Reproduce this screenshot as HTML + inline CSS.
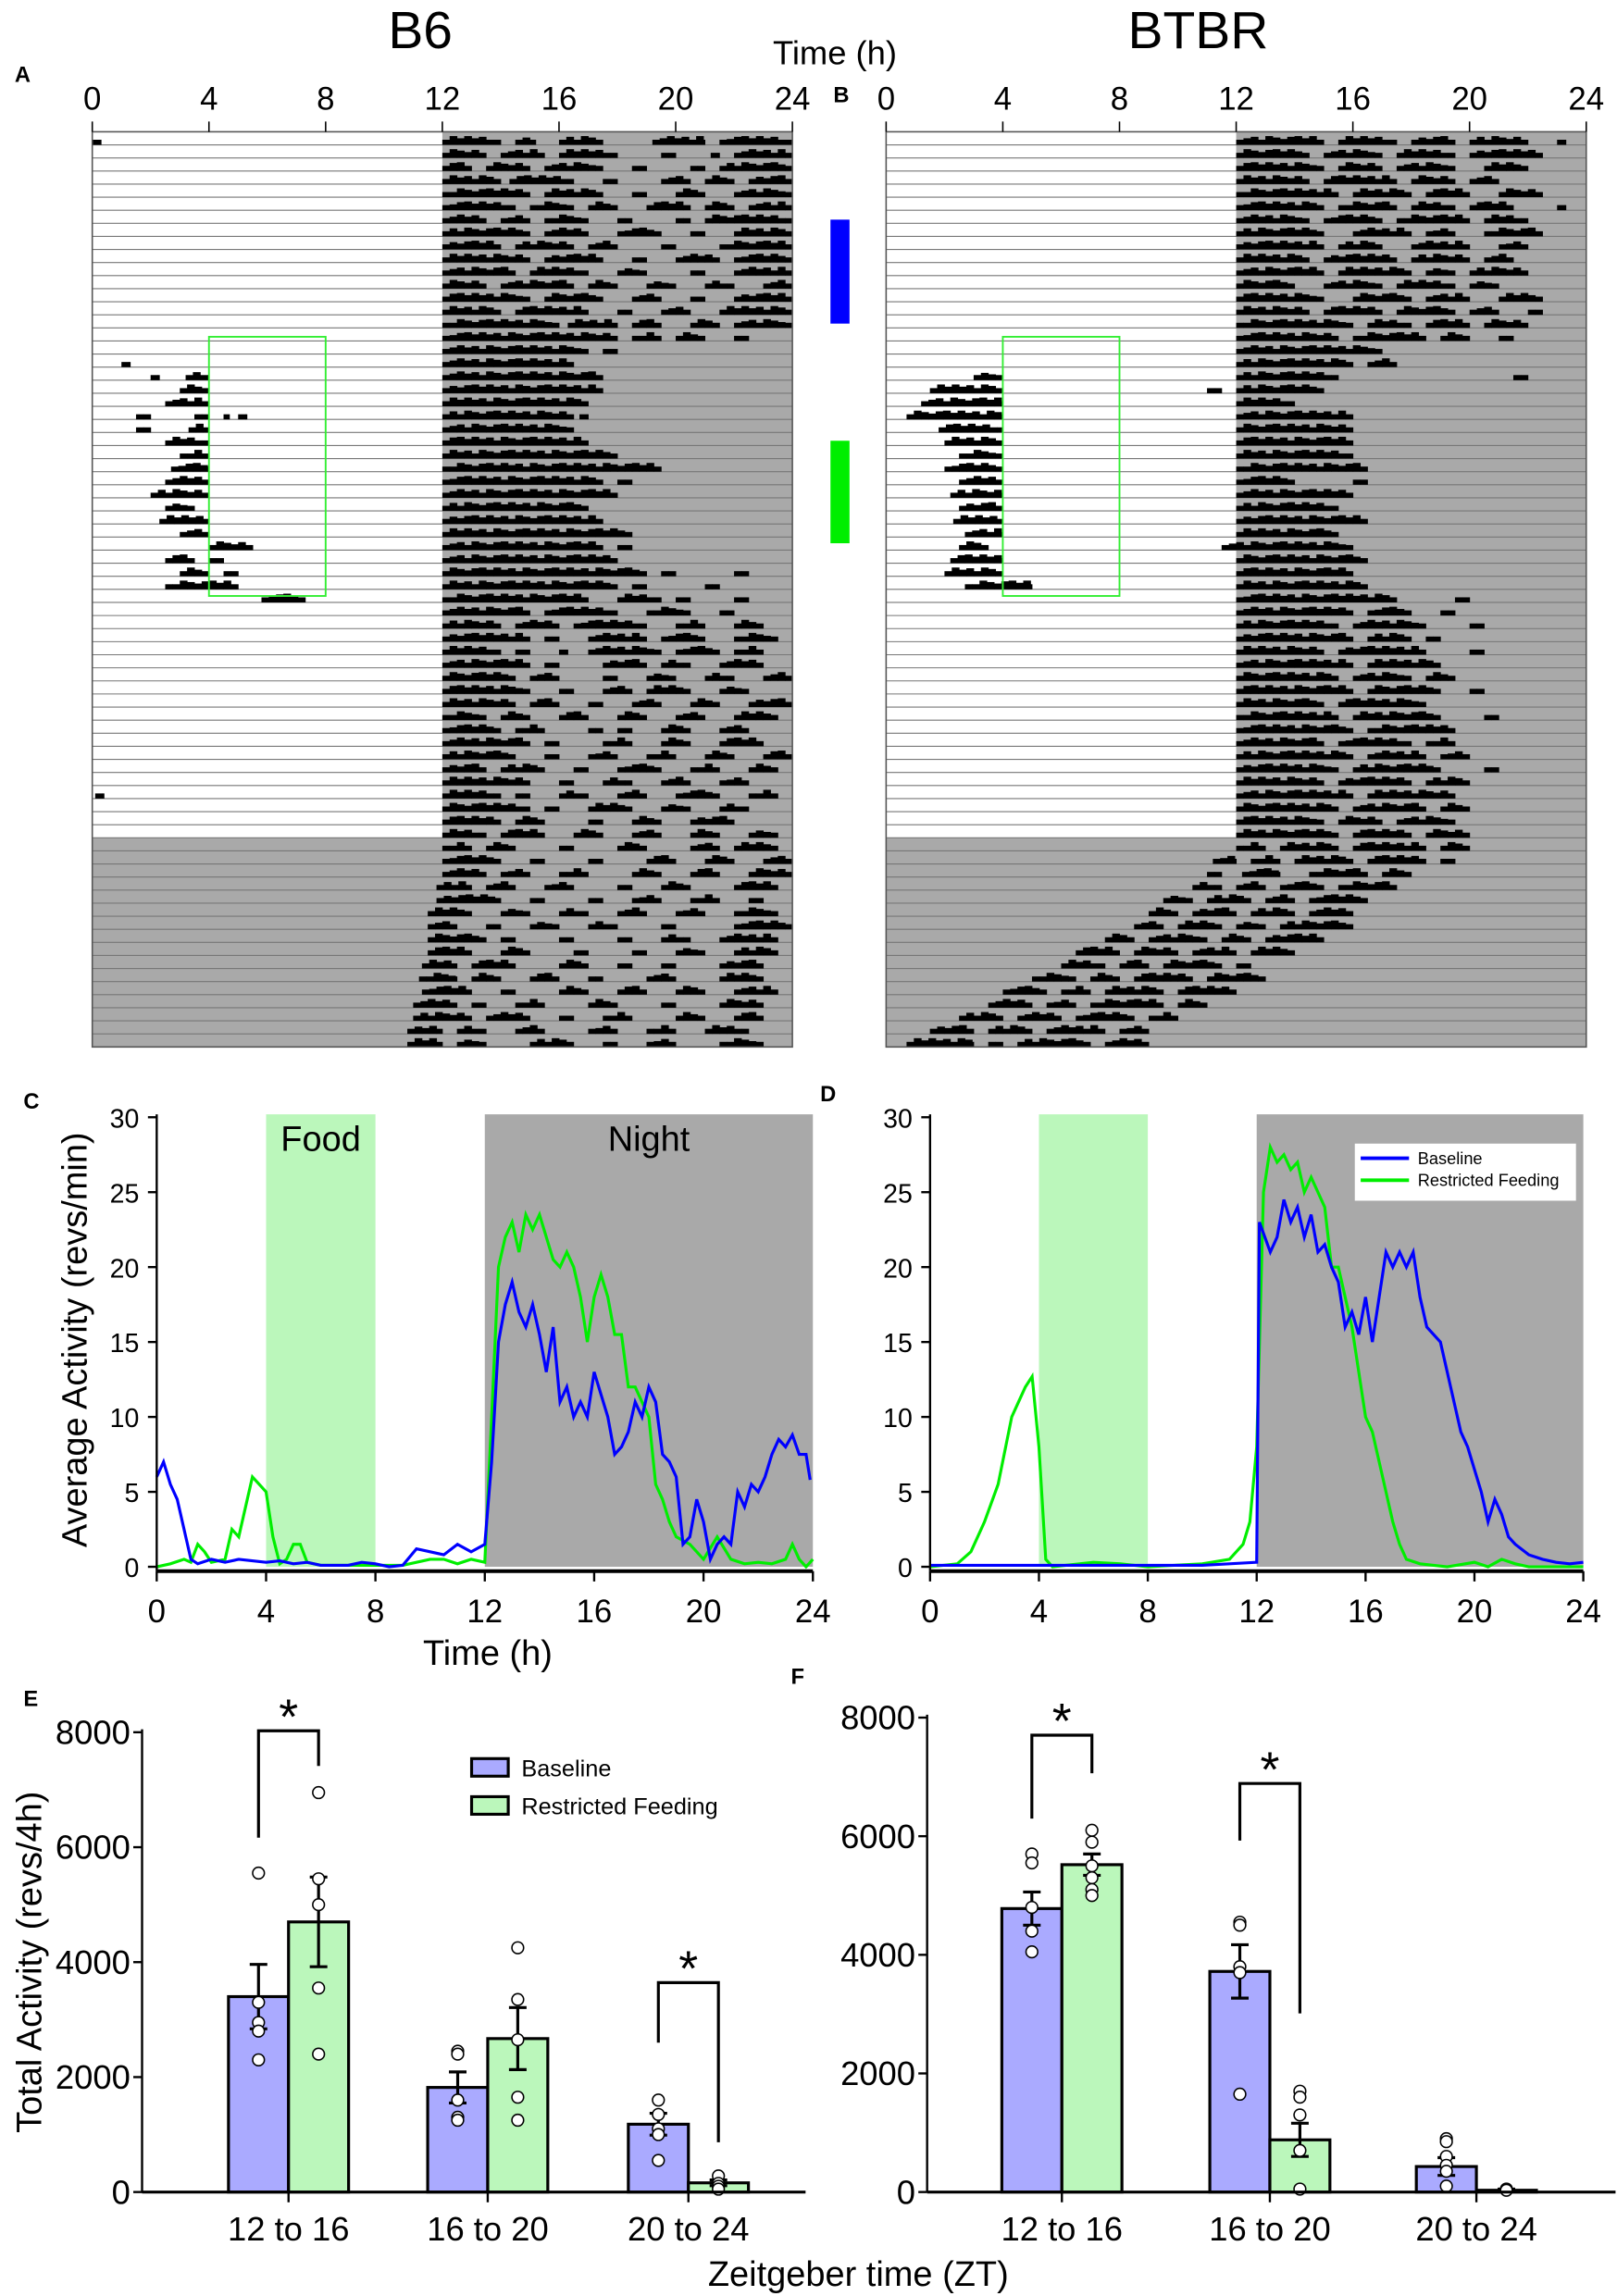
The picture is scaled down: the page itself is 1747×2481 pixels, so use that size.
<!DOCTYPE html>
<html><head><meta charset="utf-8">
<style>
html,body{margin:0;padding:0;background:#fff;}
svg{display:block;font-family:"Liberation Sans",sans-serif;}
</style></head>
<body>
<svg id="fig" width="1747" height="2481" viewBox="0 0 1104 1568" preserveAspectRatio="none" xmlns="http://www.w3.org/2000/svg">
<text x="287" y="33" font-size="36" text-anchor="middle">B6</text>
<text x="818" y="33" font-size="36" text-anchor="middle">BTBR</text>
<text x="570" y="44" font-size="23" text-anchor="middle">Time (h)</text>
<text x="10" y="56" font-size="15" font-weight="bold">A</text>
<text x="569" y="70" font-size="15" font-weight="bold">B</text>
<text x="16" y="757" font-size="15" font-weight="bold">C</text>
<text x="560" y="752" font-size="15" font-weight="bold">D</text>
<text x="16" y="1165" font-size="15" font-weight="bold">E</text>
<text x="540" y="1150" font-size="15" font-weight="bold">F</text>
<rect x="567" y="150" width="13" height="71" fill="#0000ff"/>
<rect x="567" y="301" width="13" height="70" fill="#00ee00"/>
<g id="acto"></g>
<g id="lines"></g>
<g id="bars"></g>
</svg>
<script>
const NS="http://www.w3.org/2000/svg";
function mk(parent,tag,attrs,text){const e=document.createElementNS(NS,tag);for(const k in attrs)e.setAttribute(k,attrs[k]);if(text!==undefined)e.textContent=text;parent.appendChild(e);return e;}

// ---------- ACTOGRAM DATA ----------
const actoHourTicks=[0,4,8,12,16,20,24];
const b6Rows=[
"0-0.3,12-14,14.5-15.2,16-17.5,19.2-21,21.5-24","12-13.5,14-15.5,16-18,19.5-20,21.2-21.5,22-24","12-13,13.5-15,15.5-17.5,18.5-19,20.5-21,21.5-24","12-14,14.3-16.5,17.5-18,19.5-20.5,21-22,22.5-24","12-15,15.5-17.5,18.5-19,20-21,22-24","12-14.5,15-16.5,17-18,19-20.5,21-22,22.5-24","12-13.5,14-15,15.5-17,18-18.5,20-20.5,21-24","12-15,15.5-17,18-19.5,20.5-21,22-24","12-14,14.5-16.5,17-18,19.5-20,21.5-24","12-15,15.5-17.5,18.5-19,20-21.5,22-24","12-14.5,15-17,18-19,20.5-21,22-24","12-13.5,14-16.5,17-18,19-20,21-22,23-24","12-15,15.5-17.5,18.5-19.5,20.5-21,22-24","12-14,14.5-17,18-18.5,19.5-20.5,21.5-24","12-16,16.3-18,18.5-19.5,20.5-21.5,22-24","12-18,18.5-19.5,20-21,22-22.5",
"12-17,17.5-18","1-1.3,12-16.5","2-2.3,3.2-4,12-17.5","3-4,12-17.5","2.5-4,12-17","1.5-2,3.5-4,4.5-4.7,5-5.3,12-16.5,16.7-17","1.5-2,3.3-4,12-16.5","2.5-4,12-17","3-4,12-18","2.7-4,12-19.5","2.5-4,12-17.5,18-18.5","2-4,12-18","2.5-3.5,12-17","2.3-4,12-17.5","3-4,12-18.5","4-5.5,12-17.5,18-18.5","2.5-3.5,4-4.5,12-18","3-4,4.5-5,12-19,19.5-20,22-22.5","2.5-5,12-18,18.5-19,21-21.5","5.8-7.3,12-17,18-19.5,20-20.5,22-22.5",
"12-15,15.5-18,19-20.5,21.5-22","12-14,14.5-16,16.5-19,20-21,22-23","12-15,15.5-16,17-19,19.5-21,22-23.5","12-14,14.5-15,16-16.3,17-19.5,20-21.5,22-23","12-15,15.5-16,17.5-19,19.5-20.5,21.5-23","12-14.5,15-16,17.5-18,19-20,21-22,23-24","12-15,16-16.5,17.5-18.5,19-20.5,21.5-22.5","12-14.5,15-16,17-17.5,18.5-19.5,20.5-21.5,22.5-24","12-13.5,14-15,16-17,18-19,20-21,22-23.5","12-14,14.5-15.5,17-17.5,18-18.5,19.5-20.5,21.5-22.5","12-15,15.5-16,17.5-18.5,19.5-20.5,21.5-23","12-14.5,15.5-16,17-18,19-20,21-22,23-24","12-13.5,14-15.5,16.5-17,18-19.5,20.5-21.5,22.5-23.5","12-15,16-16.5,17.5-18.5,19.5-20.5,21.5-22.5","0.1-0.4,12-14,14.5-15,16-17,18-19,20-21.5,22.5-23.5","12-15,15.5-16,17-18.5,19.5-20.5,21.5-22.5","12-14,14.5-15.5,17-17.5,18.5-19.5,20.5-22","12-13.5,14-15.5,16.5-17.5,18.5-19.5,20.5-21.5,22.5-23.5",
"12-13,13.5-14.5,16-16.5,18-19,20.5-21.5,22-23.5","12-14,15-15.5,17-17.5,19-20,21-22,23-24","12-13.5,14-15,16-17,18.5-19.5,20.5-21.5,22.5-24","11.8-13,13.5-14.5,15.5-16.5,18-18.5,19.5-20.5,22-23.5","11.8-14,15-15.5,17-17.5,18.5-19.5,20.5-21.5,22.5-23","11.5-13,14-15,16-17,18-19,20-21,22-23.5","11.5-12.5,13.5-14,15-16,17-18,19.5-20,22-24","11.5-13.5,14-14.5,16-16.5,18-18.5,19.5-20.5,21.5-23.5","11.5-13,14-15,16.5-17,18.5-19,20-21,22-23.5","11.3-12.5,13-14.5,16-17,18-18.5,19.5-20,21.5-23","11.2-12.5,13-14,15-16,17-17.5,19-20,21.5-23","11.3-13,14-14.5,16-17,18-19,20-21,22-23.5","11-12.5,13-13.5,14.5-15.5,17-18,19.5-20,21.5-23","11-13,13.5-15,16-16.5,17.5-18.5,20-21,22-23","10.8-12,12.5-13.5,14.5-15.5,17-18,19-20,21-22.5","10.8-12,12.5-13.5,15-16.5,17.5-18,19-20,21.5-23"];
const btbrRows=[
"12-15,15.5-17.5,18-19.5,20-22,23-23.3","12-14.5,15-17,17.5-19.5,20-22.5","12-15,15.5-17,17.5-19.5,20.5-22","12-14.5,15-17.5,18-19.5,20-21","12-15.5,16-18,18.5-20,21-22.5","12-15,15.5-17.5,18-19.5,20-21.5,23-23.3","12-14.5,15-17,17.5-20,20.5-22","12-15,16-18,18.5-19.5,20.5-22.5","12-15,15.5-17,18-20,21-22","12-14.5,15-17.5,18-20,20.5-21.5","12-15,15.5-18,18.5-19.5,20-22","12-14,15-17,17.5-19.5,20-21","12-15,16-18,18.5-20,21-22.5","12-14.5,15-17,17.5-19.5,20-21,22-22.5","12-16,16.5-18,18.5-20,20.5-22","12-15.5,16-18.5,19-20,21-21.5",
"12-17","12-16,16.5-17.5","3-4,12-15.5,21.5-22","1.5-4,11-11.5,12-15","1.2-4,12-14","0.7-4,12-16","1.8-4,12-16","2-4,12-16","2.5-4,12-16","2-4,12-16.5","2.5-4,12-14,16-16.5","2.2-4,12-16","2.5-4,12-15.5","2.3-4,12-16.5","2.7-4,12-15.5","2.5-3.5,11.5-16","2.2-4,12-16.5","2-4,12-16","2.7-5,12-16.5","12-17.5,19.5-20",
"12-16,16.5-18,19-19.5","12-15.5,16-18.5,20-20.5","12-16,16.5-18,18.5-19","12-15,15.5-18.5,20-20.5","12-16,16.5-19","12-15.5,16-18,18.5-19.5","12-16,16.5-19,20-20.5","12-15,15.5-18.5","12-15.5,16-19,20.5-21","12-16,16.5-19.5","12-15,15.5-18,18.5-19.5","12-16,16.5-18.5,19-20","12-15.5,16-19,20.5-21","12-15,15.5-18,18.5-20","12-16,16.5-19.5","12-15.5,16-18.5,19-20","12-15,15.5-17,17.5-19.5","12-15.5,16-18,18.5-20",
"12-13,13.5-15.5,16-18.5,19-20","11.2-12,12.5-13.5,14-16,16.5-18.5,19-19.5","11-11.5,12.2-13.5,14.5-16.5,17-18","10.5-11.5,12-13,13.5-15,15.5-17.5","9.5-10.5,11-12.5,13-14,14.5-16.5","9-10,10.5-12,12.5-14,14.5-16","8.5-9.5,10-11.5,12-13,13.5-16","7.5-8.5,9-11,11.5-12.5,13-15","6.5-8,8.5-10,10.5-12,12.5-14","6-7.5,8-9,9.5-11.5,12-12.5","5-6.5,7-8,8.5-10.5,11-13","4-5.5,6-7,7.5-9.5,10-12","3.5-5,5.5-6.5,7-9.5,10-11","2.5-4,4.5-6,6.5-8.5,9-10","1.5-3,3.5-5,5.5-7.5,8-9","0.7-3,3.5-4,4.5-7,7.5-9"];

// ---------- LINE DATA ----------
const c_blueT=[0,0.25,0.5,0.75,1,1.25,1.5,2,2.5,3,3.5,4,4.5,5,5.5,6,6.5,7,7.5,8,8.5,9,9.5,10,10.5,11,11.5,12,12.25,12.5,12.75,13,13.25,13.5,13.75,14,14.25,14.5,14.75,15,15.25,15.5,15.75,16,16.25,16.5,16.75,17,17.25,17.5,17.75,18,18.25,18.5,18.75,19,19.25,19.5,19.75,20,20.25,20.5,20.75,21,21.25,21.5,21.75,22,22.25,22.5,22.75,23,23.25,23.5,23.75,23.9];
const c_blueV=[6,7,5.5,4.5,2.5,0.5,0.2,0.5,0.3,0.5,0.4,0.3,0.4,0.2,0.3,0.1,0.1,0.1,0.3,0.2,0,0.1,1.2,1.0,0.8,1.5,1.0,1.5,7,15,17.5,19,17,16,17.5,15.5,13,16,11,12,10,11,10,13,11.5,10,7.5,8,9,11,10,12,11,7.5,7,6,1.5,2,4.5,3,0.5,1.5,2,1.5,5,4,5.5,5,6,7.5,8.5,8,8.8,7.5,7.5,5.8];
const c_greenT=[0,0.5,1,1.25,1.5,1.75,2,2.5,2.75,3,3.25,3.5,3.75,4,4.25,4.5,4.75,5,5.25,5.5,6,7,8,9,10,10.5,11,11.5,12,12.25,12.5,12.75,13,13.25,13.5,13.75,14,14.25,14.5,14.75,15,15.25,15.5,15.75,16,16.25,16.5,16.75,17,17.25,17.5,17.75,18,18.25,18.5,18.75,19,19.5,20,20.5,21,21.5,22,22.5,23,23.25,23.5,23.75,24];
const c_greenV=[0,0.2,0.5,0.3,1.5,1,0.3,0.5,2.5,2,4,6,5.5,5,2,0.2,0.5,1.5,1.5,0.3,0.1,0.1,0.1,0.1,0.5,0.5,0.2,0.5,0.3,10,20,22,23,21,23.5,22.5,23.5,22,20.5,20,21,20,18,15,18,19.5,18,15.5,15.5,12,12,11,10,5.5,4.5,3,2,1.5,0.5,2,0.5,0.2,0.3,0.2,0.5,1.5,0.5,0,0.5];
const d_blueT=[0,2,4,6,8,10,12,12.1,12.5,12.75,13,13.25,13.5,13.75,14,14.25,14.5,14.75,15,15.25,15.5,15.75,16,16.25,16.5,16.75,17,17.25,17.5,17.75,18,18.25,18.5,18.75,19,19.25,19.5,19.75,20,20.25,20.5,20.75,21,21.25,21.5,22,22.5,23,23.5,24];
const d_blueV=[0.1,0.1,0.1,0.1,0.1,0.1,0.3,23,21,22,24.5,23,24,22,23.5,21,21.5,20,19,16,17,15.5,18,15,18,21,20,21,20,21,18,16,15.5,15,13,11,9,8,6.5,5,3,4.5,3.5,2,1.5,0.8,0.5,0.3,0.2,0.3];
const d_greenT=[0,1,1.5,2,2.5,3,3.25,3.5,3.75,4,4.25,4.5,6,7,8,10,11,11.5,11.75,12,12.25,12.5,12.75,13,13.25,13.5,13.75,14,14.25,14.5,14.75,15,15.25,15.5,15.75,16,16.25,16.5,16.75,17,17.25,17.5,18,19,20,20.5,21,21.5,22,24];
const d_greenV=[0,0.2,1,3,5.5,10,11,12,12.7,8,0.5,0,0.3,0.2,0,0.2,0.5,1.5,3,8,25,28,27,27.5,26.5,27,25,26,25,24,20,20,18,16,13,10,9,7,5,3,1.5,0.5,0.2,0,0.3,0,0.5,0.2,0,0];
const lineYTicks=[0,5,10,15,20,25,30];

// ---------- BAR DATA ----------
const groups=["12 to 16","16 to 20","20 to 24"];
const e_base=[3400,1820,1180], e_rf=[4700,2670,160];
const e_baseErr=[560,270,190], e_rfErr=[780,540,50];
const e_baseDots=[[5550,3300,2950,2800,2300],[2450,2400,1600,1300,1250],[1600,1350,1100,1000,550]];
const e_rfDots=[[6950,5450,5000,3550,2400],[4250,3350,2650,1650,1250],[280,150,100,50]];
const f_base=[4780,3720,430], f_rf=[5520,880,30];
const f_baseErr=[280,450,150], f_rfErr=[180,280,20];
const f_baseDots=[[5700,5550,4800,4400,4050],[4550,4500,3800,3700,1650],[900,850,600,450,350,100]];
const f_rfDots=[[6100,5900,5500,5300,5100,5000],[1700,1600,1300,700,50],[50,30]];
const barYTicks=[0,2000,4000,6000,8000];

// ---------- ACTOGRAMS ----------
const acto=document.getElementById('acto');
const texH=[6,4.5,5.5,3.5,6,5,4,5.5,6,4.5];
function drawActo(x0,x1,rows,name){
  const g=mk(acto,'g',{});
  
  
  const top=90,bot=715,n=rows.length,h=(bot-top)/n;
  const X=t=>x0+(x1-x0)*t/24;
  const ddRow=54;
  mk(g,'rect',{x:X(12),y:top,width:X(24)-X(12),height:ddRow*h,fill:'#a9a9a9'});
  mk(g,'rect',{x:x0,y:top+ddRow*h,width:x1-x0,height:bot-(top+ddRow*h),fill:'#a9a9a9'});
  rows.forEach((r,i)=>{
    const yb=top+(i+1)*h;
    mk(g,'line',{x1:x0,x2:x1,y1:yb,y2:yb,stroke:'#777','stroke-width':0.7});
    r.split(',').forEach((s,j)=>{
      const [a,b]=s.split('-').map(Number);
      const bout=mk(g,'g',{});
      
      
      let k=0;
      for(let t=a;t<b-1e-6;t+=0.25,k++){
        const te=Math.min(b,t+0.25);
        let hh=texH[(i*3+j*7+k)%texH.length];
        if(t===a||te===b) hh=Math.min(hh,3.5);
        mk(bout,'rect',{x:X(t),y:yb-hh,width:Math.max(1,X(te)-X(t)+0.3),height:hh,fill:'#000'});
      }
    });
  });
  mk(g,'rect',{x:x0,y:top,width:x1-x0,height:bot-top,fill:'none',stroke:'#555','stroke-width':1});
  actoHourTicks.forEach(t=>{
    mk(g,'line',{x1:X(t),x2:X(t),y1:top,y2:top-7,stroke:'#000','stroke-width':1});
    const lb=mk(g,'text',{x:X(t),y:top-15,'font-size':22,'text-anchor':'middle'},String(t));
    
    
  });
  mk(g,'rect',{x:X(4),y:230,width:X(8)-X(4),height:177,fill:'none',stroke:'#33ee33','stroke-width':1.2});
}
drawActo(63,541,b6Rows,'actogram-b6');
drawActo(605,1083,btbrRows,'actogram-btbr');

// ---------- LINE CHARTS ----------
const lines=document.getElementById('lines');
function drawLine(x0,x1,series,name,showFoodText,legend){
  const g=mk(lines,'g',{});
  
  
  const y0=1070,y30=763;
  const X=t=>x0+(x1-x0)*t/24, Y=v=>y0+(y30-y0)*v/30;
  const food=mk(g,'rect',{x:X(4),y:761,width:X(8)-X(4),height:y0-761,fill:'#bbf7bb'});
  
  
  const night=mk(g,'rect',{x:X(12),y:761,width:X(24)-X(12),height:y0-761,fill:'#a9a9a9'});
  
  
  if(showFoodText){
    mk(g,'text',{x:X(6),y:786,'font-size':24,'text-anchor':'middle'},'Food');
    mk(g,'text',{x:X(18),y:786,'font-size':24,'text-anchor':'middle'},'Night');
  }
  series.forEach(s=>{
    const p=mk(g,'polyline',{points:s.t.map((t,i)=>X(t)+','+Y(s.v[i])).join(' '),fill:'none',stroke:s.c,'stroke-width':2});
    
    
  });
  mk(g,'line',{x1:x0,x2:x0,y1:y30-2,y2:y0+3,stroke:'#000','stroke-width':1.5});
  mk(g,'line',{x1:x0,x2:x1,y1:y0+3,y2:y0+3,stroke:'#000','stroke-width':2.5});
  lineYTicks.forEach(v=>{
    mk(g,'line',{x1:x0-6,x2:x0,y1:Y(v),y2:Y(v),stroke:'#000','stroke-width':1.5});
    mk(g,'text',{x:x0-12,y:Y(v)+7,'font-size':18,'text-anchor':'end'},String(v));
  });
  actoHourTicks.forEach(t=>{
    mk(g,'line',{x1:X(t),x2:X(t),y1:y0+3,y2:y0+10,stroke:'#000','stroke-width':1.5});
    mk(g,'text',{x:X(t),y:y0+38,'font-size':22,'text-anchor':'middle'},String(t));
  });
  if(legend){
    const lg=mk(g,'g',{});
    
    
    mk(lg,'rect',{x:925,y:781,width:151,height:39,fill:'#fff'});
    mk(lg,'line',{x1:929,x2:962,y1:791,y2:791,stroke:'#0000ff','stroke-width':2.5});
    mk(lg,'text',{x:968,y:795,'font-size':11.5},'Baseline');
    mk(lg,'line',{x1:929,x2:962,y1:806,y2:806,stroke:'#00ee00','stroke-width':2.5});
    mk(lg,'text',{x:968,y:810,'font-size':11.5},'Restricted Feeding');
  }
}
drawLine(107,555,[{t:c_greenT,v:c_greenV,c:'#00ee00',n:'b6-restricted-line'},{t:c_blueT,v:c_blueV,c:'#0000ff',n:'b6-baseline-line'}],'activity-chart-b6',true,false);
drawLine(635,1081,[{t:d_greenT,v:d_greenV,c:'#00ee00',n:'btbr-restricted-line'},{t:d_blueT,v:d_blueV,c:'#0000ff',n:'btbr-baseline-line'}],'activity-chart-btbr',false,true);
mk(lines,'text',{x:333,y:1137,'font-size':24,'text-anchor':'middle'},'Time (h)');
mk(lines,'text',{x:0,y:0,'font-size':24,'text-anchor':'middle',transform:'translate(59,915) rotate(-90)'},'Average Activity (revs/min)');

// ---------- BAR CHARTS ----------
const bars=document.getElementById('bars');
function drawBars(ax,axEnd,yTop,centers,base,rf,bErr,rErr,bDots,rDots,sig,name){
  const g=mk(bars,'g',{});
  
  
  const y0=1497,Y=v=>y0+(yTop-y0)*v/8000,bw=41;
  centers.forEach((c,i)=>{
    [[base,bErr,bDots,'#aaaaff',c-bw,'bar-baseline'],[rf,rErr,rDots,'#bbf7bb',c,'bar-restricted']].forEach(([vals,errs,dots,col,x,nm])=>{
      const r=mk(g,'rect',{x:x,y:Y(vals[i]),width:bw,height:y0-Y(vals[i]),fill:col,stroke:'#000','stroke-width':2});
      
      
      const cx=x+bw/2;
      mk(g,'line',{x1:cx,x2:cx,y1:Y(vals[i]+errs[i]),y2:Y(vals[i]-errs[i]),stroke:'#000','stroke-width':2});
      mk(g,'line',{x1:cx-6,x2:cx+6,y1:Y(vals[i]+errs[i]),y2:Y(vals[i]+errs[i]),stroke:'#000','stroke-width':2});
      mk(g,'line',{x1:cx-6,x2:cx+6,y1:Y(vals[i]-errs[i]),y2:Y(vals[i]-errs[i]),stroke:'#000','stroke-width':2});
      dots[i].forEach(d=>{mk(g,'circle',{cx:cx,cy:Y(d),r:4,fill:'#fff',stroke:'#000','stroke-width':1});});
    });
    mk(g,'line',{x1:c,x2:c,y1:y0,y2:y0+7,stroke:'#000','stroke-width':1.5});
    mk(g,'text',{x:c,y:1530,'font-size':23,'text-anchor':'middle'},groups[i]);
  });
  mk(g,'line',{x1:ax,x2:ax,y1:yTop-2,y2:y0,stroke:'#000','stroke-width':1.5});
  mk(g,'line',{x1:ax,x2:axEnd,y1:y0,y2:y0,stroke:'#000','stroke-width':2});
  barYTicks.forEach(v=>{
    mk(g,'line',{x1:ax-6,x2:ax,y1:Y(v),y2:Y(v),stroke:'#000','stroke-width':1.5});
    mk(g,'text',{x:ax-8,y:Y(v)+8,'font-size':23,'text-anchor':'end'},String(v));
  });
  sig.forEach(s=>{
    const c=centers[s.g],l=c-bw/2,r=c+bw/2;
    mk(g,'polyline',{points:`${l},${s.ly} ${l},${s.top} ${r},${s.top} ${r},${s.ry}`,fill:'none',stroke:'#000','stroke-width':2});
    mk(g,'text',{x:c,y:s.top+2,'font-size':34,'text-anchor':'middle'},'*');
  });
}
drawBars(97,550,1183,[197,333,470],e_base,e_rf,e_baseErr,e_rfErr,e_baseDots,e_rfDots,[{g:0,top:1182,ly:1255,ry:1206},{g:2,top:1354,ly:1395,ry:1463}],'bar-chart-b6');
drawBars(633,1103,1173,[725,867,1008],f_base,f_rf,f_baseErr,f_rfErr,f_baseDots,f_rfDots,[{g:0,top:1185,ly:1242,ry:1211},{g:1,top:1218,ly:1257,ry:1375}],'bar-chart-btbr');
const lg=mk(bars,'g',{});


mk(lg,'rect',{x:322,y:1201,width:25,height:12,fill:'#aaaaff',stroke:'#000','stroke-width':2});
mk(lg,'text',{x:356,y:1213,'font-size':16},'Baseline');
mk(lg,'rect',{x:322,y:1227,width:25,height:12,fill:'#bbf7bb',stroke:'#000','stroke-width':2});
mk(lg,'text',{x:356,y:1239,'font-size':16},'Restricted Feeding');
mk(bars,'text',{x:586,y:1561,'font-size':24,'text-anchor':'middle'},'Zeitgeber time (ZT)');
mk(bars,'text',{x:0,y:0,'font-size':24,'text-anchor':'middle',transform:'translate(28,1340) rotate(-90)'},'Total Activity (revs/4h)');
</script>
</body></html>
